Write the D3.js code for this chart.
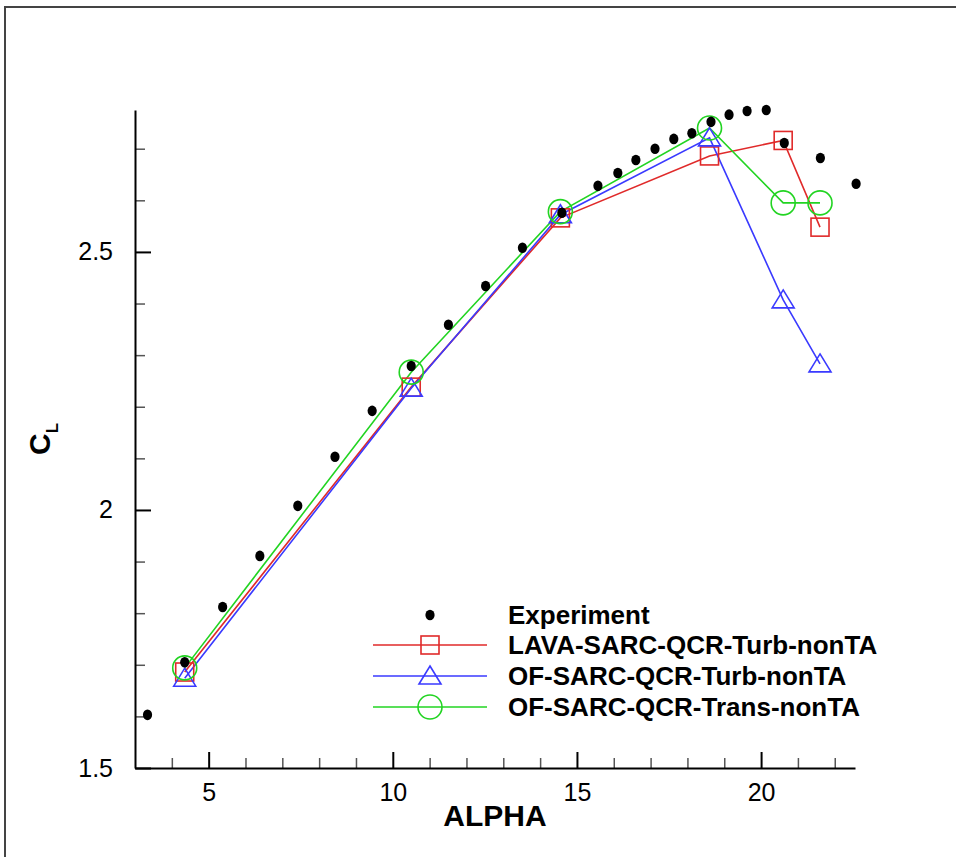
<!DOCTYPE html>
<html>
<head>
<meta charset="utf-8">
<script src="https://cdn.jsdelivr.net/npm/d3@7"></script>
<style>
  html, body { margin: 0; padding: 0; background: #fff; }
  svg { display: block; }
  text { font-family: "Liberation Sans", Arial, Helvetica, sans-serif; }
</style>
</head>
<body>
<svg id="chart" width="956" height="857"></svg>
<script>
// Lift coefficient vs. angle of attack
const expAlpha = [3.34, 4.35, 5.38, 6.39, 7.42, 8.43, 9.44, 10.50, 11.51, 12.52, 13.52, 14.59,
                  15.57, 16.11, 16.60, 17.12, 17.63, 18.12, 18.64, 19.13, 19.62, 20.14, 20.63, 21.61, 22.58];
const expCL    = [1.603, 1.705, 1.812, 1.911, 2.008, 2.103, 2.192, 2.279, 2.359, 2.434, 2.508, 2.576,
                  2.628, 2.653, 2.678, 2.700, 2.719, 2.730, 2.752, 2.766, 2.773, 2.775, 2.711, 2.682, 2.632];

const simAlpha  = [4.35, 10.5, 14.55, 18.6, 20.6, 21.6];
const lavaCL    = [1.686, 2.238, 2.566, 2.686, 2.716, 2.548];
const ofTurbCL  = [1.674, 2.236, 2.572, 2.721, 2.407, 2.283];
const ofTransCL = [1.694, 2.267, 2.578, 2.740, 2.595, 2.595];

const seriesNames = ["Experiment", "LAVA-SARC-QCR-Turb-nonTA", "OF-SARC-QCR-Turb-nonTA", "OF-SARC-QCR-Trans-nonTA"];

const xMajorTicks = [5, 10, 15, 20];
const xMinorTicks = [4, 6, 7, 8, 9, 11, 12, 13, 14, 16, 17, 18, 19, 21, 22];
const yMajorTicks = [1.5, 2, 2.5];
const yTickLabels = ["1.5", "2", "2.5"];
const yMinorTicks = [1.6, 1.7, 1.8, 1.9, 2.1, 2.2, 2.3, 2.4, 2.6, 2.7];

const svg = d3.select("#chart");

// page frame (top and left edges)
svg.append("rect").attr("x", 5).attr("y", 7).attr("width", 1200).attr("height", 1200)
  .attr("fill", "none").attr("stroke", "#444").attr("stroke-width", 2);

const plotL = 135, plotR = 855, plotT = 110, plotB = 768;
const x = d3.scaleLinear().domain([3, 22.55]).range([plotL, plotR]);
const y = d3.scaleLinear().domain([1.5, 2.775]).range([plotB, plotT]);

// minor ticks
svg.append("g").attr("transform", `translate(0,${plotB})`)
  .call(d3.axisBottom(x).tickValues(xMinorTicks).tickSize(-10).tickFormat(""))
  .call(g => g.select(".domain").remove())
  .call(g => g.selectAll("line").attr("stroke", "#555").attr("stroke-width", 1.5));
svg.append("g").attr("transform", `translate(${plotL},0)`)
  .call(d3.axisLeft(y).tickValues(yMinorTicks).tickSize(-10).tickFormat(""))
  .call(g => g.select(".domain").remove())
  .call(g => g.selectAll("line").attr("stroke", "#555").attr("stroke-width", 1.5));

// major axes
svg.append("g").attr("transform", `translate(0,${plotB})`)
  .call(d3.axisBottom(x).tickValues(xMajorTicks).tickSizeInner(-16).tickSizeOuter(0).tickPadding(15).tickFormat(d3.format("d")))
  .call(g => g.select(".domain").attr("stroke", "#000").attr("stroke-width", 2))
  .call(g => g.selectAll(".tick line").attr("stroke", "#000").attr("stroke-width", 2))
  .call(g => g.selectAll("text").attr("font-size", 25).attr("fill", "#000")
    .attr("font-family", "'Liberation Sans', Arial, sans-serif"));
svg.append("g").attr("transform", `translate(${plotL},0)`)
  .call(d3.axisLeft(y).tickValues(yMajorTicks).tickSizeInner(-16).tickSizeOuter(0).tickPadding(22)
    .tickFormat((d, i) => yTickLabels[i]))
  .call(g => g.select(".domain").attr("stroke", "#000").attr("stroke-width", 2))
  .call(g => g.selectAll(".tick line").attr("stroke", "#000").attr("stroke-width", 2))
  .call(g => g.selectAll("text").attr("font-size", 25).attr("fill", "#000")
    .attr("font-family", "'Liberation Sans', Arial, sans-serif"));

// axis titles
svg.append("text").attr("x", (plotL + plotR) / 2).attr("y", 826)
  .attr("text-anchor", "middle").attr("font-size", 30).attr("font-weight", "bold").text("ALPHA");
const yt = svg.append("text").attr("transform", `translate(50,${(plotT + plotB) / 2}) rotate(-90)`)
  .attr("text-anchor", "middle").attr("font-weight", "bold");
yt.append("tspan").attr("font-size", 30).text("C");
yt.append("tspan").attr("font-size", 17).attr("dy", 8).text("L");

// marker shapes
const colors = { lava: "#e02a2a", ofTurb: "#3a3aff", ofTrans: "#22d422" };
function drawMarker(g, kind, cx, cy, color) {
  if (kind === "square") {
    g.append("rect").attr("x", cx - 9).attr("y", cy - 9).attr("width", 18).attr("height", 18)
      .attr("fill", "none").attr("stroke", color).attr("stroke-width", 1.6);
  } else if (kind === "triangle") {
    g.append("path").attr("d", `M${cx},${cy - 10}L${cx + 11},${cy + 8}L${cx - 11},${cy + 8}Z`)
      .attr("fill", "none").attr("stroke", color).attr("stroke-width", 1.6);
  } else if (kind === "circle") {
    g.append("circle").attr("cx", cx).attr("cy", cy).attr("r", 12)
      .attr("fill", "none").attr("stroke", color).attr("stroke-width", 1.6);
  }
}

const line = d3.line().x(d => x(d[0])).y(d => y(d[1]));
const sims = [
  { vals: lavaCL, color: colors.lava, kind: "square" },
  { vals: ofTurbCL, color: colors.ofTurb, kind: "triangle" },
  { vals: ofTransCL, color: colors.ofTrans, kind: "circle" }
];

const plot = svg.append("g");
sims.forEach(s => {
  const pts = simAlpha.map((a, i) => [a, s.vals[i]]);
  plot.append("path").datum(pts).attr("d", line)
    .attr("fill", "none").attr("stroke", s.color).attr("stroke-width", 1.6);
});
sims.forEach(s => {
  simAlpha.forEach((a, i) => drawMarker(plot, s.kind, x(a), y(s.vals[i]), s.color));
});

// experimental data
plot.selectAll("ellipse.exp").data(expAlpha.map((a, i) => [a, expCL[i]])).enter()
  .append("ellipse").attr("class", "exp")
  .attr("cx", d => x(d[0])).attr("cy", d => y(d[1])).attr("rx", 4.6).attr("ry", 5.3).attr("fill", "#000");

// legend
const legend = svg.append("g");
const rowY = [615, 645, 676, 707];
const lx0 = 373, lx1 = 487, lmx = 430, ltx = 508;
legend.append("ellipse").attr("cx", lmx).attr("cy", rowY[0]).attr("rx", 4.6).attr("ry", 5.3).attr("fill", "#000");
sims.forEach((s, i) => {
  const yy = rowY[i + 1];
  legend.append("line").attr("x1", lx0).attr("x2", lx1).attr("y1", yy).attr("y2", yy)
    .attr("stroke", s.color).attr("stroke-width", 1.6);
  drawMarker(legend, s.kind, lmx, yy, s.color);
});
seriesNames.forEach((n, i) => {
  legend.append("text").attr("x", ltx).attr("y", rowY[i]).attr("dy", "0.36em")
    .attr("font-size", 26).attr("font-weight", "bold").attr("fill", "#000").text(n);
});
</script>
</body>
</html>
